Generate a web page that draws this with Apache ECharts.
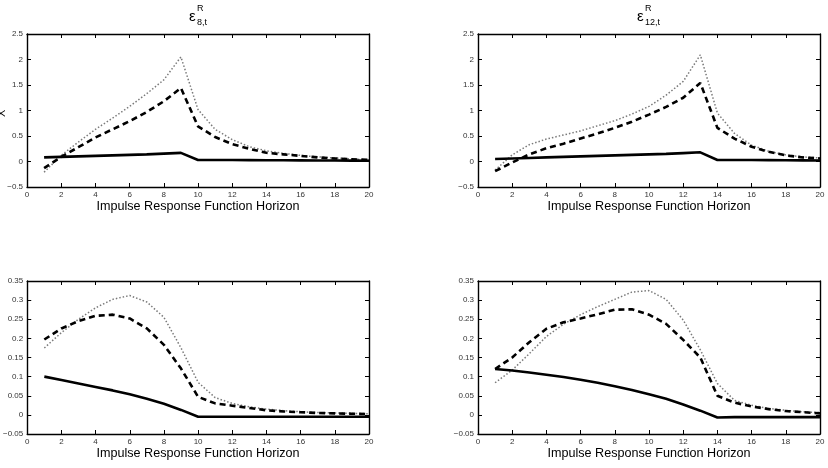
<!DOCTYPE html>
<html><head><meta charset="utf-8">
<script src="https://cdn.jsdelivr.net/npm/echarts@6/dist/echarts.min.js"></script>
<style>html,body{margin:0;padding:0;background:#fff}#c{width:828px;height:468px}</style>
</head><body><div id="c"></div>
<script>
const horizon = [1,2,3,4,5,6,7,8,9,10,11,12,13,14,15,16,17,18,19,20];
const xTicks = [0,2,4,6,8,10,12,14,16,18,20];

// Top-left panel (eps R 8,t)
const tlSolid  = [0.08,0.09,0.10,0.11,0.12,0.13,0.14,0.155,0.17,0.03,0.03,0.028,0.027,0.025,0.024,0.022,0.02,0.019,0.017,0.015];
const tlDashed = [-0.13,0.09,0.28,0.47,0.63,0.79,0.97,1.18,1.44,0.69,0.48,0.34,0.25,0.17,0.14,0.11,0.08,0.06,0.045,0.03];
const tlDotted = [-0.21,0.12,0.38,0.63,0.85,1.08,1.33,1.6,2.05,1.02,0.63,0.43,0.29,0.21,0.16,0.12,0.09,0.07,0.05,0.03];

// Top-right panel (eps R 12,t)
const trSolid  = [0.05,0.06,0.07,0.08,0.09,0.10,0.11,0.12,0.13,0.14,0.15,0.165,0.18,0.03,0.03,0.028,0.027,0.025,0.023,0.02];
const trDashed = [-0.19,-0.02,0.14,0.26,0.35,0.45,0.55,0.66,0.78,0.92,1.07,1.25,1.54,0.66,0.45,0.29,0.19,0.12,0.08,0.06];
const trDotted = [-0.17,0.13,0.33,0.44,0.52,0.6,0.7,0.8,0.93,1.08,1.3,1.57,2.09,0.95,0.55,0.32,0.2,0.13,0.09,0.07];

// Bottom-left panel
const blSolid  = [0.1,0.091,0.082,0.073,0.064,0.054,0.042,0.029,0.013,-0.005,-0.005,-0.005,-0.005,-0.005,-0.005,-0.005,-0.005,-0.005,-0.005,-0.005];
const blDashed = [0.197,0.226,0.245,0.259,0.262,0.252,0.226,0.183,0.121,0.047,0.03,0.024,0.018,0.012,0.009,0.007,0.005,0.004,0.003,0.002];
const blDotted = [0.175,0.215,0.25,0.28,0.302,0.312,0.295,0.255,0.175,0.085,0.045,0.03,0.021,0.015,0.011,0.008,0.006,0.005,0.004,0.003];

// Bottom-right panel
const brSolid  = [0.12,0.116,0.111,0.105,0.099,0.092,0.084,0.075,0.065,0.054,0.042,0.027,0.011,-0.007,-0.006,-0.006,-0.006,-0.006,-0.006,-0.006];
const brDashed = [0.12,0.15,0.19,0.225,0.242,0.252,0.263,0.275,0.276,0.262,0.238,0.196,0.15,0.05,0.032,0.022,0.015,0.01,0.007,0.004];
const brDotted = [0.084,0.117,0.16,0.205,0.237,0.262,0.283,0.302,0.321,0.325,0.302,0.248,0.17,0.082,0.038,0.025,0.017,0.012,0.008,0.006];

const panels = [
  {grid:{left:27,top:34,width:342,height:153}, yMin:-0.5, yMax:2.5, yInt:0.5, s:[tlSolid,tlDashed,tlDotted]},
  {grid:{left:478,top:34,width:342,height:153}, yMin:-0.5, yMax:2.5, yInt:0.5, s:[trSolid,trDashed,trDotted]},
  {grid:{left:27,top:281,width:342,height:153}, yMin:-0.05, yMax:0.35, yInt:0.05, s:[blSolid,blDashed,blDotted]},
  {grid:{left:478,top:281,width:342,height:153}, yMin:-0.05, yMax:0.35, yInt:0.05, s:[brSolid,brDashed,brDotted]}
];

function fmt(v){ return String(+v.toFixed(2)).replace('-', '\u2212'); }

const grids=[], xAxes=[], yAxes=[], series=[];
const line = {show:true, onZero:false, lineStyle:{color:'#000', width:1.4}};
const tick = {show:true, inside:true, length:4, lineStyle:{color:'#000', width:1}};
const lab = {color:'#333', fontSize:8, fontFamily:'Liberation Sans, Arial, sans-serif', margin:4};
panels.forEach((p,i)=>{
  grids.push(p.grid);
  xAxes.push({type:'value', gridIndex:i, min:0, max:20, interval:2, position:'bottom',
    axisLine:line, axisTick:tick, splitLine:{show:false}, axisLabel:Object.assign({formatter:fmt},lab)});
  xAxes.push({type:'value', gridIndex:i, min:0, max:20, interval:2, position:'top',
    axisLine:line, axisTick:tick, splitLine:{show:false}, axisLabel:{show:false}});
  yAxes.push({type:'value', gridIndex:i, min:p.yMin, max:p.yMax, interval:p.yInt, position:'left',
    axisLine:line, axisTick:tick, splitLine:{show:false}, axisLabel:Object.assign({formatter:fmt},lab)});
  yAxes.push({type:'value', gridIndex:i, min:p.yMin, max:p.yMax, interval:p.yInt, position:'right',
    axisLine:line, axisTick:tick, splitLine:{show:false}, axisLabel:{show:false}});
  const styles = [
    {color:'#000', width:2.6, type:'solid'},
    {color:'#000', width:2.6, type:[6,4]},
    {color:'#7a7a7a', width:1.5, type:[1.5,2]}
  ];
  [2,1,0].forEach(k=>{
    series.push({type:'line', xAxisIndex:2*i, yAxisIndex:2*i, showSymbol:false, symbol:'none',
      silent:true, animation:false, z: 3-k,
      data: horizon.map((h,j)=>[h,p.s[k][j]]), lineStyle:styles[k]});
  });
});

const font='Liberation Sans, Arial, sans-serif';
const graphic = [
  {type:'text', left:189, top:9, style:{text:'\u03b5', font:'15px '+font, fill:'#000'}},
  {type:'text', left:197, top:4, style:{text:'R', font:'9px '+font, fill:'#000'}},
  {type:'text', left:197, top:18, style:{text:'8,t', font:'9px '+font, fill:'#000'}},
  {type:'text', left:637, top:9, style:{text:'\u03b5', font:'15px '+font, fill:'#000'}},
  {type:'text', left:645, top:4, style:{text:'R', font:'9px '+font, fill:'#000'}},
  {type:'text', left:645, top:18, style:{text:'12,t', font:'9px '+font, fill:'#000'}},
  {type:'text', x:198, y:200, style:{text:'Impulse Response Function Horizon', font:'12.6px '+font, fill:'#000', textAlign:'center'}},
  {type:'text', x:649, y:200, style:{text:'Impulse Response Function Horizon', font:'12.6px '+font, fill:'#000', textAlign:'center'}},
  {type:'text', x:198, y:447, style:{text:'Impulse Response Function Horizon', font:'12.6px '+font, fill:'#000', textAlign:'center'}},
  {type:'text', x:649, y:447, style:{text:'Impulse Response Function Horizon', font:'12.6px '+font, fill:'#000', textAlign:'center'}},
  {type:'text', x:-4, y:117, rotation:Math.PI/2, style:{text:'X', font:'11px '+font, fill:'#000'}}
];

const chart = echarts.init(document.getElementById('c'), null, {renderer:'canvas'});
chart.setOption({animation:false, backgroundColor:'#fff', grid:grids, xAxis:xAxes, yAxis:yAxes, series:series, graphic:graphic});
</script></body></html>
